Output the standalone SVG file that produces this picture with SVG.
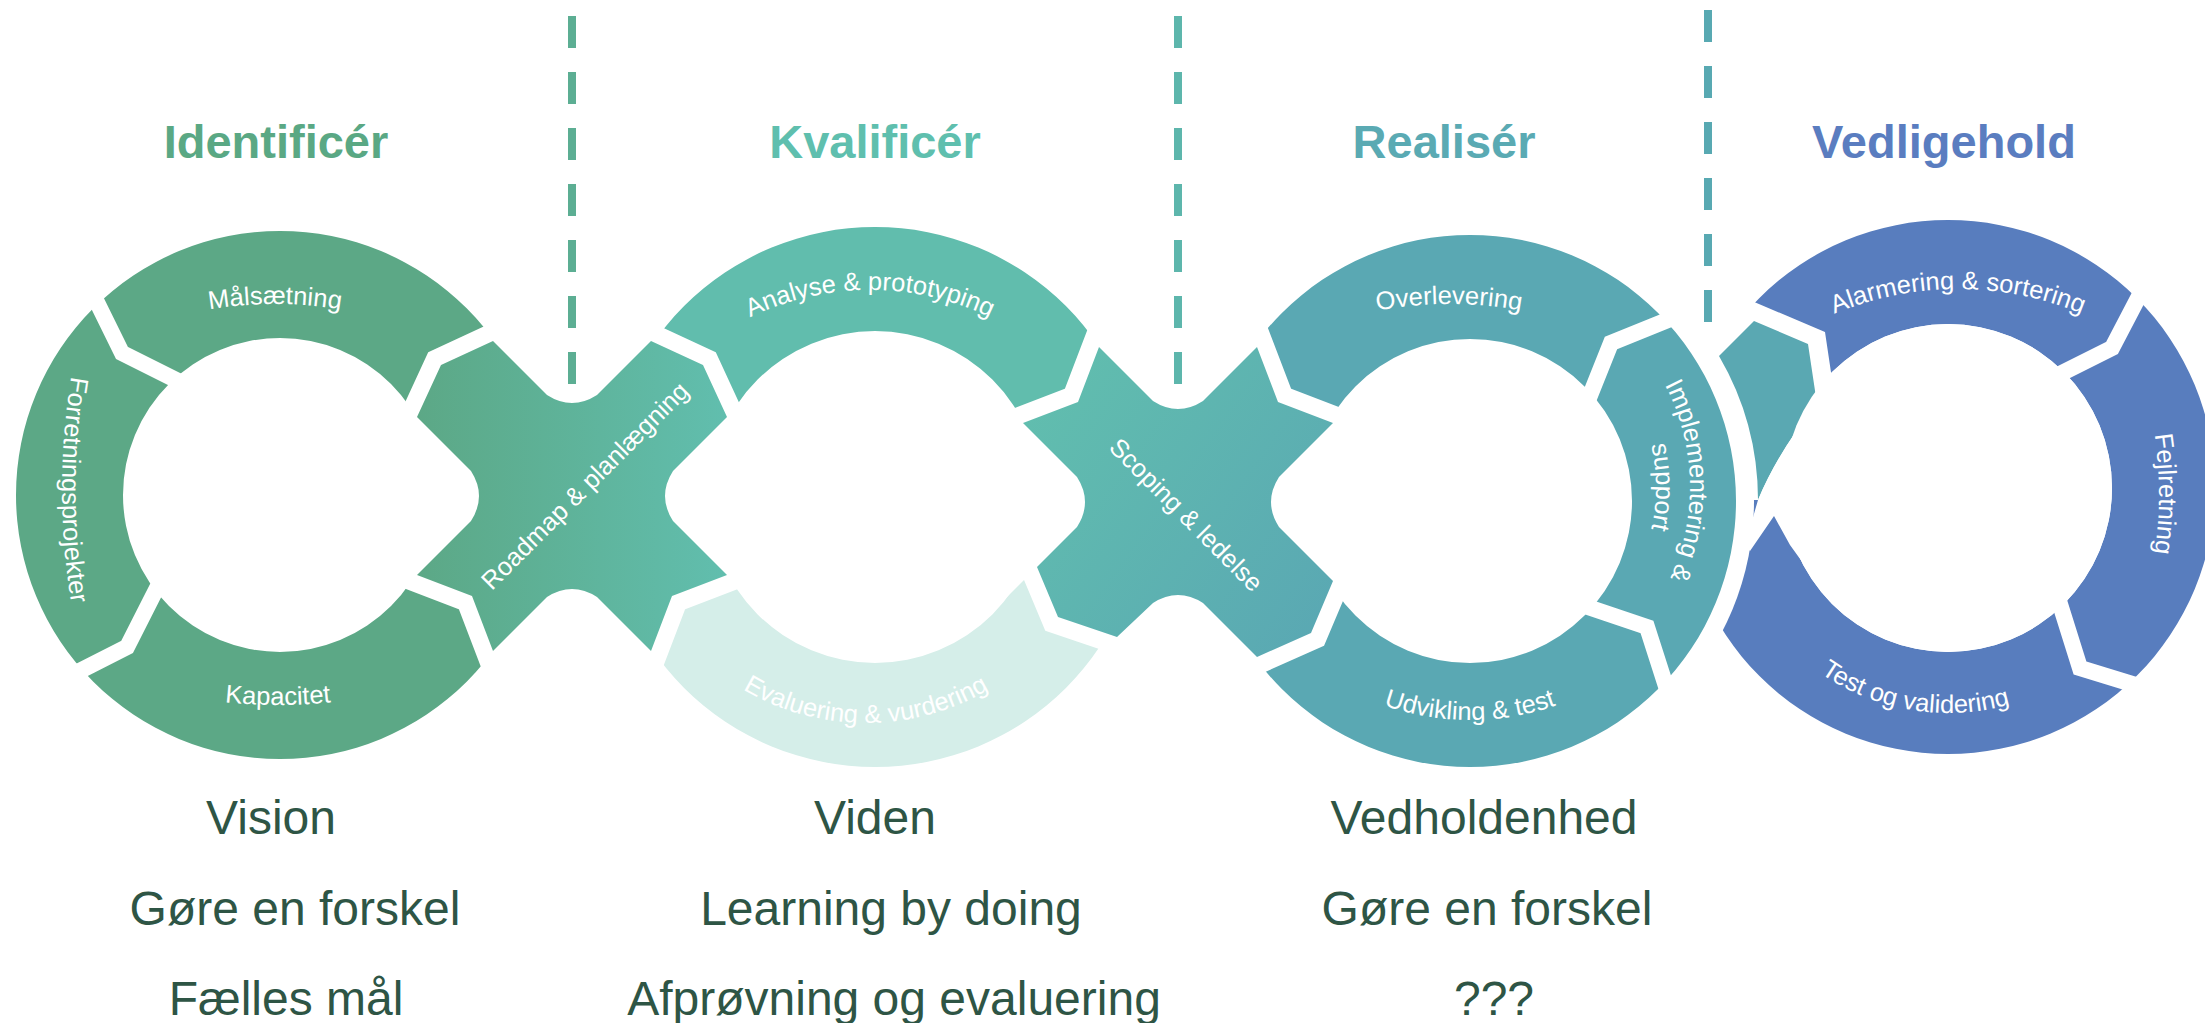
<svg xmlns="http://www.w3.org/2000/svg" width="2205" height="1023" viewBox="0 0 2205 1023">
<style>
.lbl{font-family:"Liberation Sans",Arial,Helvetica,sans-serif;font-size:25.5px;fill:#ffffff}
.ttl{font-family:"Liberation Sans",Arial,Helvetica,sans-serif;font-size:47px;font-weight:bold;text-anchor:middle}
.sub{font-family:"Liberation Sans",Arial,Helvetica,sans-serif;font-size:48px;fill:#2e5545;text-anchor:middle}
.gap{fill:none;stroke:#ffffff;stroke-width:16;stroke-linejoin:miter;stroke-miterlimit:10}
.halo{stroke:#ffffff;stroke-width:34;stroke-linejoin:miter;stroke-miterlimit:10;paint-order:stroke}
.dash{fill:none;stroke-width:8;stroke-dasharray:32 24}
.hole{fill:#ffffff}
</style>
<defs>
<linearGradient id="g1" gradientUnits="userSpaceOnUse" x1="417" y1="0" x2="727" y2="0">
<stop offset="0" stop-color="#5ca886"/><stop offset="1" stop-color="#61beae"/>
</linearGradient>
<linearGradient id="g2" gradientUnits="userSpaceOnUse" x1="1023" y1="400" x2="1333" y2="620">
<stop offset="0" stop-color="#61beae"/><stop offset="1" stop-color="#5aa8b3"/>
</linearGradient>
<path id="p_mal" d="M125,333.2 A400,400 0 0 1 425,333.2"/>
<path id="p_for" d="M83,320 A700,700 0 0 0 83,660"/>
<path id="p_kap" d="M128,682 A500,500 0 0 0 428,682"/>
<path id="p_ana" d="M693.2,354.3 A275,275 0 0 1 1046.8,354.3"/>
<path id="p_eva" d="M679.9,636.2 A243,243 0 0 0 1052.1,636.2"/>
<path id="p_ove" d="M1299,333.2 A400,400 0 0 1 1599,333.2"/>
<path id="p_imp1" d="M1580,296.5 A220,220 0 0 1 1580,677.5"/>
<path id="p_imp2" d="M1563,325.9 A186,186 0 0 1 1563,648.1"/>
<path id="p_udv" d="M1270.8,627.1 A260,260 0 0 0 1669.2,627.1"/>
<path id="p_ala" d="M1752.3,363.9 A320,320 0 0 1 2163.7,363.9"/>
<path id="p_fej" d="M2139.4,370.4 A400,400 0 0 1 2139.4,617.6"/>
<path id="p_tes" d="M1776.4,633 A224,224 0 0 0 2119.6,633"/>
</defs>
<rect width="2205" height="1023" fill="#ffffff"/>

<!-- Vedligehold ring -->
<g id="ring-vedligehold">
<path fill="#587dbe" fill-rule="evenodd" d="M1681,487 A267,267 0 1 1 2215,487 A267,267 0 1 1 1681,487 Z M1784,488 A164,164 0 1 0 2112,488 A164,164 0 1 0 1784,488 Z"/>
<polygon class="hole" points="1680,250 1705,281 1825,332 1832,379 1835,420 1758,500 1680,500"/>
<path id="teal-piece" fill="#5aa8b2" d="M1719,356 L1754,321 L1808,344 L1817,404 Q1778,452 1758,500 A286,286 0 0 0 1719,356 Z"/>
<path class="hole" d="M1832,379 L1817,403 Q1778,452 1758,500 L1745,545 L1750,551 L1774,516 L1790,545 L1821,588 L1948,488 Z"/>
<circle class="hole" cx="1948" cy="488" r="164"/>
<polyline class="gap" points="2148,279 2112,348 2040,384"/>
<polyline class="gap" points="2054,585 2080,668 2155,691"/>
</g>
<circle cx="1470" cy="501" r="284" fill="#ffffff"/>

<!-- Identificer ring -->
<g id="ring-identificer">
<path fill="#5ca886" fill-rule="evenodd" d="M16,495 A264,264 0 1 1 544,495 A264,264 0 1 1 16,495 Z M123,495 A157,157 0 1 0 437,495 A157,157 0 1 0 123,495 Z"/>
<polygon class="hole" points="395,395 475,475 475,517 395,597 280,495"/>
<polyline class="gap" points="90,288 122,353 190,387"/>
<polyline class="gap" points="161,580 127,647 62,680"/>
</g>

<!-- Kvalificer ring -->
<g id="ring-kvalificer">
<path fill="#61bdad" d="M605,497 A270,270 0 0 1 1145,497 L1041,497 A166,166 0 0 0 709,497 Z"/>
<path fill="#d5eee9" d="M605,497 A270,270 0 0 0 1145,497 L1041,497 A166,166 0 0 1 709,497 Z"/>
<polygon class="hole" points="745,399 669,475 669,517 745,593 875,497"/>
<polygon class="hole" points="1005,405 1081,481 1081,523 1005,599 875,497"/>
</g>

<!-- Realiser ring -->
<g id="ring-realiser">
<path fill="#5aa8b3" fill-rule="evenodd" d="M1204,501 A266,266 0 1 1 1736,501 A266,266 0 1 1 1204,501 Z M1308,501 A162,162 0 1 0 1632,501 A162,162 0 1 0 1308,501 Z"/>
<polygon class="hole" points="1350,406 1275,481 1275,523 1350,598 1470,501"/>
<polyline class="gap" points="1690,311 1611,343 1583,413"/>
<polyline class="gap" points="1570,601 1647,627 1672,705"/>
</g>

<!-- Crosses -->
<g id="cross-roadmap">
<path class="halo" fill="url(#g1)" d="M547,395 Q572,411 597,395 L651,341 L703,365 L727,417 L673,471 Q657,496 673,521 L727,575 L672,596 L651,651 L597,597 Q572,581 547,597 L493,651 L472,596 L417,575 L471,521 Q487,496 471,471 L417,417 L441,365 L493,341 Z"/>
</g>
<g id="cross-scoping">
<path class="halo" fill="url(#g2)" d="M1153,401 Q1178,417 1203,401 L1257,347 L1278,402 L1333,423 L1279,477 Q1263,502 1279,527 L1333,581 L1311,633 L1257,657 L1203,603 Q1178,587 1153,603 L1117,637 L1058,617 L1037,567 L1077,527 Q1093,502 1077,477 L1023,423 L1078,402 L1099,347 Z"/>
</g>

<!-- Dashed separators -->
<g id="connectors">
<path class="dash" stroke="#5cae93" d="M572,16 V384"/>
<path class="dash" stroke="#5db6ac" d="M1178,16 V384"/>
<path class="dash" stroke="#58a9b2" d="M1708,10 V322"/>
</g>

<!-- Segment labels -->
<g id="labels">
<text class="lbl" text-anchor="middle"><textPath href="#p_mal" startOffset="50%">Målsætning</textPath></text>
<text class="lbl" text-anchor="middle"><textPath href="#p_for" startOffset="50%">Forretningsprojekter</textPath></text>
<text class="lbl" text-anchor="middle"><textPath href="#p_kap" startOffset="50%">Kapacitet</textPath></text>
<text class="lbl" text-anchor="middle" transform="translate(591,492) rotate(-45)">Roadmap &amp; planlægning</text>
<text class="lbl" text-anchor="middle"><textPath href="#p_ana" startOffset="50%">Analyse &amp; prototyping</textPath></text>
<text class="lbl" text-anchor="middle"><textPath href="#p_eva" startOffset="50%">Evaluering &amp; vurdering</textPath></text>
<text class="lbl" text-anchor="middle" transform="translate(1180,521) rotate(45)">Scoping &amp; ledelse</text>
<text class="lbl" text-anchor="middle"><textPath href="#p_ove" startOffset="50%">Overlevering</textPath></text>
<text class="lbl" text-anchor="middle"><textPath href="#p_imp1" startOffset="224">Implementering &amp;</textPath></text>
<text class="lbl" text-anchor="middle"><textPath href="#p_imp2" startOffset="50%">support</textPath></text>
<text class="lbl" text-anchor="middle"><textPath href="#p_udv" startOffset="50%">Udvikling &amp; test</textPath></text>
<text class="lbl" text-anchor="middle"><textPath href="#p_ala" startOffset="50%">Alarmering &amp; sortering</textPath></text>
<text class="lbl" text-anchor="middle"><textPath href="#p_fej" startOffset="50%">Fejlretning</textPath></text>
<text class="lbl" text-anchor="middle"><textPath href="#p_tes" startOffset="159">Test og validering</textPath></text>
</g>

<!-- Phase titles -->
<g id="titles">
<text class="ttl" x="276" y="158" fill="#5aa884">Identificér</text>
<text class="ttl" x="875" y="158" fill="#5fbfae">Kvalificér</text>
<text class="ttl" x="1444" y="158" fill="#5aaab3">Realisér</text>
<text class="ttl" x="1944" y="158" fill="#5a7dc0">Vedligehold</text>
</g>

<!-- Bottom texts -->
<g id="values">
<text class="sub" x="271" y="834">Vision</text>
<text class="sub" x="295" y="925">Gøre en forskel</text>
<text class="sub" x="286" y="1015">Fælles mål</text>
<text class="sub" x="875" y="834">Viden</text>
<text class="sub" x="891" y="925">Learning by doing</text>
<text class="sub" x="894" y="1015">Afprøvning og evaluering</text>
<text class="sub" x="1484" y="834">Vedholdenhed</text>
<text class="sub" x="1487" y="925">Gøre en forskel</text>
<text class="sub" x="1494" y="1015">???</text>
</g>
</svg>
